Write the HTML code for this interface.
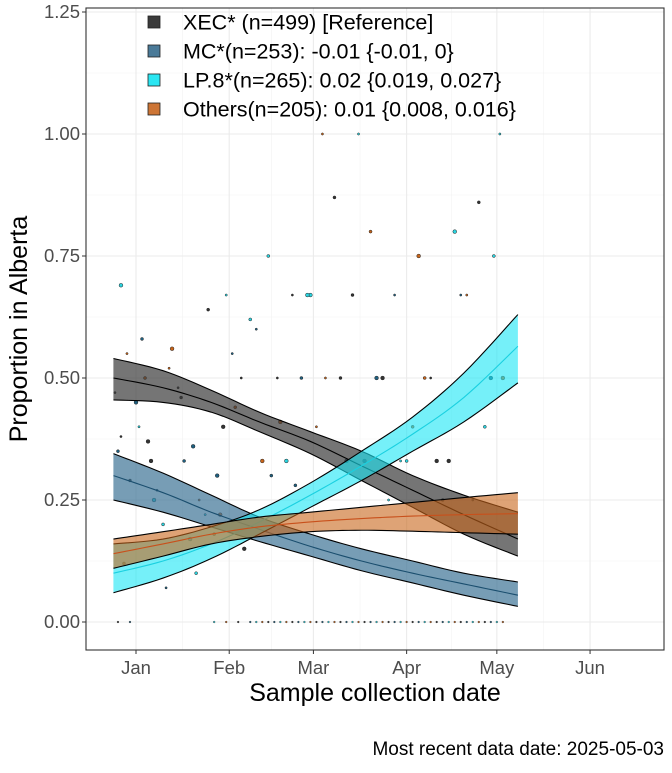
<!DOCTYPE html>
<html><head><meta charset="utf-8"><style>
body{margin:0;background:#fff;font-family:"Liberation Sans",sans-serif}
svg text{font-family:"Liberation Sans",sans-serif}
</style></head><body>
<svg id="c" width="672" height="768" xmlns="http://www.w3.org/2000/svg"></svg>
<script>
const days=[-7.5,9,25,41,58,75,92,109,127];
const xecMean=[0.50,0.48,0.45,0.41,0.37,0.32,0.27,0.22,0.17];
const xecLo=[0.455,0.45,0.43,0.39,0.345,0.29,0.235,0.18,0.135];
const xecHi=[0.54,0.515,0.475,0.43,0.39,0.35,0.30,0.26,0.225];
const lpMean=[0.10,0.125,0.16,0.205,0.26,0.32,0.385,0.46,0.565];
const lpLo=[0.06,0.09,0.13,0.18,0.235,0.29,0.35,0.41,0.49];
const lpHi=[0.16,0.17,0.195,0.23,0.285,0.35,0.42,0.51,0.63];
const mcMean=[0.30,0.265,0.225,0.19,0.155,0.125,0.10,0.078,0.055];
const mcLo=[0.25,0.225,0.195,0.165,0.135,0.105,0.08,0.055,0.032];
const mcHi=[0.345,0.305,0.26,0.215,0.18,0.15,0.125,0.10,0.082];
const otMean=[0.14,0.16,0.18,0.195,0.205,0.212,0.217,0.22,0.222];
const otLo=[0.11,0.135,0.16,0.175,0.185,0.188,0.186,0.183,0.18];
const otHi=[0.17,0.185,0.20,0.215,0.225,0.235,0.245,0.255,0.265];
const yTicks=[0,0.25,0.5,0.75,1.0,1.25];
const yTickLabels=["0.00","0.25","0.50","0.75","1.00","1.25"];
const xTicks=[0,31,59,90,120,151];
const xTickLabels=["Jan","Feb","Mar","Apr","May","Jun"];
const ptDay=[-7,-6,-5,-3,-2,0,1,3,5,7,9,12,14,16,18,21,24,27,30,33,36,40,44,48,52,55,58,62,66,70,74,78,82,86,90,94,98,102,106,110,114,118,121,-4,4,10,20,28,35,45,50,60,68,76,84,92,100,108,116,122,-5,2,6,11,15,19,23,26,29,32,38,42,47,53,57,63,72,80,88,96,104,112,119];
const ptVal=[0.47,0.35,0.69,0.55,0.29,0.45,0.40,0.50,0.33,0.27,0.20,0.56,0.48,0.33,0.17,0.25,0.64,0.30,0.67,0.44,0.15,0.60,0.75,0.41,0.67,0.50,0.67,1.0,0.87,0.33,1.0,0.80,0.50,0.67,0.33,0.75,0.50,0.25,0.80,0.67,0.86,0.50,1.0,0.12,0.37,0.07,0.10,0.22,0.50,0.30,0.33,0.40,0.50,0.33,0.25,0.40,0.33,0.67,0.40,0.50,0.38,0.58,0.25,0.52,0.46,0.36,0.22,0.18,0.40,0.55,0.62,0.33,0.50,0.28,0.67,0.50,0.67,0.50,0.33,0.50,0.33,0.25,0.75];
const zeroDays=[-6,-2,26,30,34,38,40,42,44,46,48,50,52,54,56,58,60,62,64,66,68,70,72,74,76,78,80,82,84,86,88,90,92,94,96,98,100,102,104,106,108,110,112,114,116,118,120,122];
const NS="http://www.w3.org/2000/svg";
const svg=document.getElementById('c');
const L=86,R=664,T=8,B=650;
const X=d=>136+d*3.007;
const Y=v=>622-v*488;
function el(tag,attrs,parent){const e=document.createElementNS(NS,tag);for(const k in attrs)e.setAttribute(k,attrs[k]);(parent||svg).appendChild(e);return e;}
function smooth(arr){const p=days.map((t,i)=>[X(t),Y(arr[i])]);const out=[];for(let i=0;i<p.length-1;i++){const p0=p[Math.max(0,i-1)],p1=p[i],p2=p[i+1],p3=p[Math.min(p.length-1,i+2)];for(let s=0;s<8;s++){const u=s/8,u2=u*u,u3=u2*u;const f=(a,b,c,d)=>0.5*((2*b)+(-a+c)*u+(2*a-5*b+4*c-d)*u2+(-a+3*b-3*c+d)*u3);out.push([f(p0[0],p1[0],p2[0],p3[0]),f(p0[1],p1[1],p2[1],p3[1])]);}}out.push(p[p.length-1]);return out;}
el('rect',{x:L,y:T,width:R-L,height:B-T,fill:'#fff'});
for(let i=0;i<yTicks.length-1;i++){const g=el('line',{x1:L,x2:R,y1:Y(yTicks[i]+0.125),y2:Y(yTicks[i]+0.125),stroke:'#f2f2f2','stroke-width':0.6});}
for(let i=0;i<xTicks.length-1;i++){const m=(xTicks[i]+xTicks[i+1])/2;const g=el('line',{x1:X(m),x2:X(m),y1:T,y2:B,stroke:'#f2f2f2','stroke-width':0.6});}
yTicks.forEach((v,i)=>{const g=el('line',{x1:L,x2:R,y1:Y(v),y2:Y(v),stroke:'#ebebeb','stroke-width':1.1});
const t=el('text',{x:L-6,y:Y(v)+6,'text-anchor':'end','font-size':18.5,fill:'#4d4d4d'});t.textContent=yTickLabels[i];
el('line',{x1:L-4,x2:L,y1:Y(v),y2:Y(v),stroke:'#333'});});
xTicks.forEach((d,i)=>{const g=el('line',{x1:X(d),x2:X(d),y1:T,y2:B,stroke:'#ebebeb','stroke-width':1.1});
const t=el('text',{x:X(d),y:B+24,'text-anchor':'middle','font-size':18.5,fill:'#4d4d4d'});t.textContent=xTickLabels[i];
el('line',{x1:X(d),x2:X(d),y1:B,y2:B+4,stroke:'#333'});});
const cols=['#333','#1f6080','#2ad4e0','#c8651b'];
ptDay.forEach((d,i)=>{const p=el('circle',{cx:X(d),cy:Y(ptVal[i]),r:1.1+(i%3)*0.4,fill:cols[i%4],stroke:'#222','stroke-width':0.5});});
zeroDays.forEach((d,i)=>{const p=el('circle',{cx:X(d),cy:Y(0),r:0.9,fill:cols[i%4],stroke:'#222','stroke-width':0.4});});
function band(lo,hi,mean,fill,line,op,name){
 const h=smooth(hi),l=smooth(lo).reverse();
 const d='M'+h.concat(l).map(p=>p[0].toFixed(1)+','+p[1].toFixed(1)).join('L')+'Z';
 const b=el('path',{d,fill,'fill-opacity':op,stroke:'none'});
 [lo,hi].forEach(a=>{el('polyline',{points:smooth(a).map(p=>p.join(',')).join(' '),fill:'none',stroke:'#000','stroke-width':1.1});});
 const m=el('polyline',{points:smooth(mean).map(p=>p.join(',')).join(' '),fill:'none',stroke:line,'stroke-width':1.1});
}
band(xecLo,xecHi,xecMean,'#3a3a3a','#000',0.7,'xec');
band(mcLo,mcHi,mcMean,'#3d7396','#1a4e6e',0.7,'mc');
band(lpLo,lpHi,lpMean,'#19e6f5','#1ad0e0',0.6,'lp8');
band(otLo,otHi,otMean,'#c8651b','#c8501b',0.6,'others');
el('rect',{x:L,y:T,width:R-L,height:B-T,fill:'none',stroke:'#333','stroke-width':1.1});
const leg=[['XEC* (n=499)  [Reference]','#3a3a3a'],['MC*(n=253): -0.01 {-0.01, 0}','#4a7a98'],['LP.8*(n=265): 0.02 {0.019, 0.027}','#2ae6f2'],['Others(n=205): 0.01 {0.008, 0.016}','#cd7535']];
leg.forEach((l,i)=>{const y=22+i*29;const r=el('rect',{x:148,y:y-6,width:12,height:12,fill:l[1],stroke:'#222','stroke-width':0.8});
const t=el('text',{x:183,y:y+7.5,'font-size':21.5,fill:'#000','xml:space':'preserve'});t.textContent=l[0];});
const yt=el('text',{x:0,y:0,'font-size':25,'text-anchor':'middle',transform:'translate(27,'+((T+B)/2)+') rotate(-90)'});yt.textContent='Proportion in Alberta';
const xt=el('text',{x:(L+R)/2,y:701,'font-size':25,'text-anchor':'middle'});xt.textContent='Sample collection date';
const cap=el('text',{x:664,y:755,'font-size':19,'text-anchor':'end'});cap.textContent='Most recent data date: 2025-05-03';
</script>
</body></html>
